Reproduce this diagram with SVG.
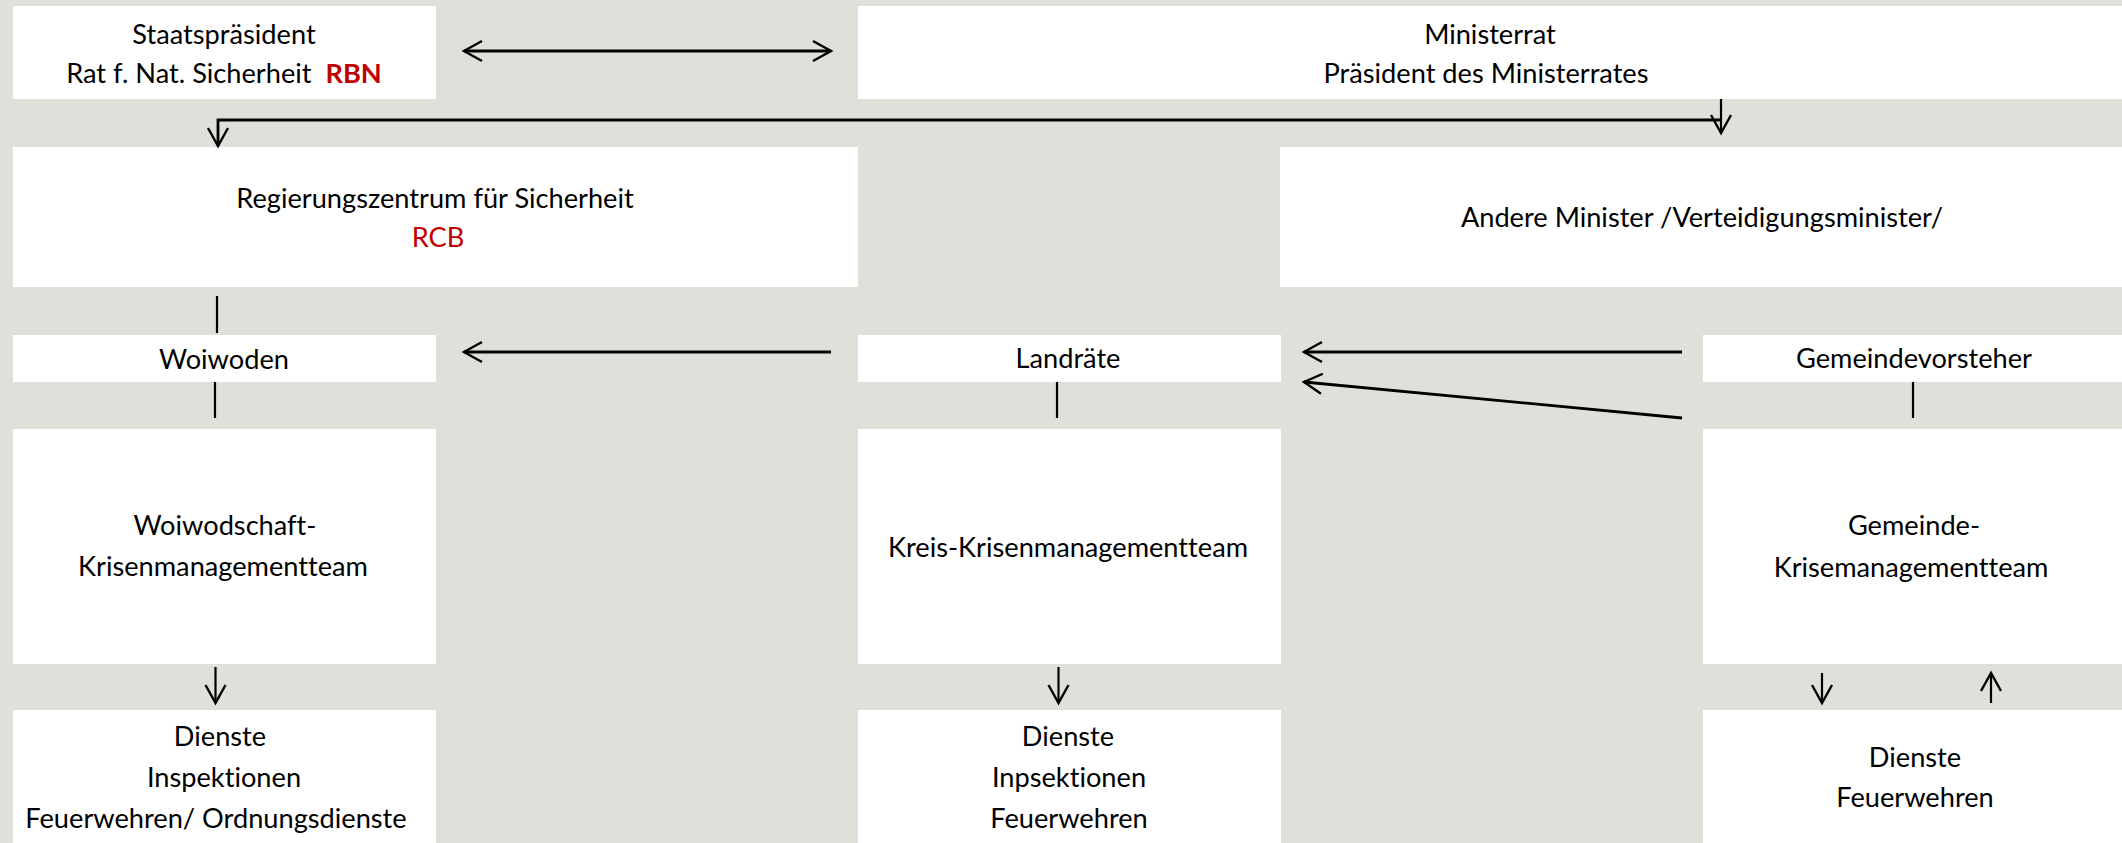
<svg xmlns="http://www.w3.org/2000/svg" width="2122" height="843" viewBox="0 0 2122 843">
<style>
.bg{fill:#E0E0DB}
.box{fill:#FFFFFF}
text{font-family:Lato,"Liberation Sans",sans-serif;font-size:27.2px;fill:#000;text-anchor:middle;font-variant-ligatures:none;white-space:pre}
.red{fill:#C00000}
.b{font-weight:bold}
.c{stroke:#000;stroke-width:2.2;fill:none}
.t{stroke-width:2.8}
</style>
<defs>
<marker id="ah" markerUnits="userSpaceOnUse" markerWidth="26" markerHeight="26" viewBox="-22 -13 26 26" refX="0" refY="0" orient="auto-start-reverse">
<path d="M-18,-10 L0,0 L-18,10" fill="none" stroke="#000" stroke-width="2.4"/>
</marker>
</defs>
<rect class="bg" x="0" y="0" width="2122" height="843"/>
<g id="staatspraesident">
<rect class="box" x="13" y="6" width="423" height="93"/>
<text x="224" y="44">Staatspräsident</text>
<text x="224" y="83" xml:space="preserve">Rat f. Nat. Sicherheit&#160; <tspan class="red b">RBN</tspan></text>
</g>
<g id="ministerrat">
<rect class="box" x="858" y="6" width="1264" height="93"/>
<text x="1490" y="44">Ministerrat</text>
<text x="1486" y="83">Präsident des Ministerrates</text>
</g>
<g id="regierungszentrum">
<rect class="box" x="13" y="147" width="845" height="140"/>
<text x="435" y="208">Regierungszentrum für Sicherheit</text>
<text class="red" x="438" y="247">RCB</text>
</g>
<g id="andere-minister">
<rect class="box" x="1280" y="147" width="842" height="140"/>
<text x="1702" y="227">Andere Minister /Verteidigungsminister/</text>
</g>
<g id="woiwoden">
<rect class="box" x="13" y="335" width="423" height="47"/>
<text x="224" y="369">Woiwoden</text>
</g>
<g id="landraete">
<rect class="box" x="858" y="335" width="423" height="47"/>
<text x="1068" y="368">Landräte</text>
</g>
<g id="gemeindevorsteher">
<rect class="box" x="1703" y="335" width="419" height="47"/>
<text x="1914" y="368">Gemeindevorsteher</text>
</g>
<g id="woiwodschaft-team">
<rect class="box" x="13" y="429" width="423" height="235"/>
<text x="225" y="535">Woiwodschaft-</text>
<text x="223" y="576">Krisenmanagementteam</text>
</g>
<g id="kreis-team">
<rect class="box" x="858" y="429" width="423" height="235"/>
<text x="1068" y="557">Kreis-Krisenmanagementteam</text>
</g>
<g id="gemeinde-team">
<rect class="box" x="1703" y="429" width="419" height="235"/>
<text x="1914" y="535">Gemeinde-</text>
<text x="1911" y="577">Krisemanagementteam</text>
</g>
<g id="woiwodschaft-dienste">
<rect class="box" x="13" y="710" width="423" height="133"/>
<text x="220" y="746">Dienste</text>
<text x="224" y="787">Inspektionen</text>
<text x="216" y="828">Feuerwehren/ Ordnungsdienste</text>
</g>
<g id="kreis-dienste">
<rect class="box" x="858" y="710" width="423" height="133"/>
<text x="1068" y="746">Dienste</text>
<text x="1069" y="787">Inpsektionen</text>
<text x="1069" y="828">Feuerwehren</text>
</g>
<g id="gemeinde-dienste">
<rect class="box" x="1703" y="710" width="419" height="133"/>
<text x="1915" y="767">Dienste</text>
<text x="1915" y="807">Feuerwehren</text>
</g>
<g id="connectors">
<line class="c t" x1="464" y1="51" x2="831" y2="51" marker-start="url(#ah)" marker-end="url(#ah)"/>
<line class="c" x1="1721" y1="99" x2="1721" y2="133" marker-end="url(#ah)"/>
<polyline class="c t" points="1721,120 218,120 218,146" marker-end="url(#ah)"/>
<line class="c" x1="217" y1="296" x2="217" y2="333"/>
<line class="c" x1="215" y1="382" x2="215" y2="418"/>
<line class="c t" x1="831" y1="352" x2="464" y2="352" marker-end="url(#ah)"/>
<line class="c" x1="1057" y1="382" x2="1057" y2="418"/>
<line class="c t" x1="1682" y1="352" x2="1304" y2="352" marker-end="url(#ah)"/>
<line class="c t" x1="1682" y1="418" x2="1304" y2="382" marker-end="url(#ah)"/>
<line class="c" x1="1913" y1="382" x2="1913" y2="418"/>
<line class="c" x1="215.5" y1="667" x2="215.5" y2="703" marker-end="url(#ah)"/>
<line class="c" x1="1058.5" y1="667" x2="1058.5" y2="703" marker-end="url(#ah)"/>
<line class="c" x1="1822" y1="673" x2="1822" y2="703" marker-end="url(#ah)"/>
<line class="c" x1="1991" y1="703" x2="1991" y2="673" marker-end="url(#ah)"/>
</g>
</svg>
